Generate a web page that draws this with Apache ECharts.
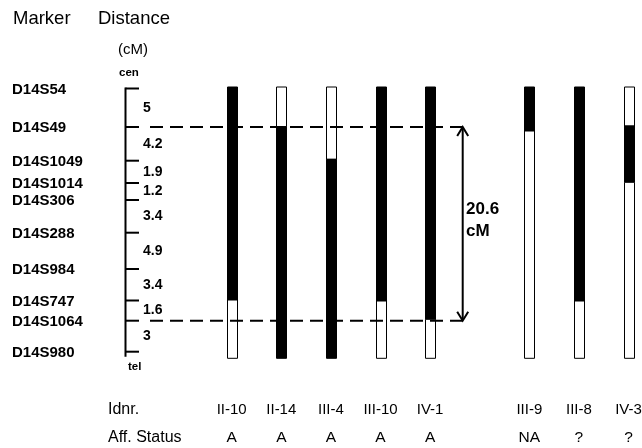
<!DOCTYPE html>
<html><head><meta charset="utf-8">
<script src="https://cdn.jsdelivr.net/npm/echarts@6/dist/echarts.min.js"></script>
<style>html,body{margin:0;padding:0;background:#fff}#c{width:642px;height:448px}</style>
</head><body><div id="c"></div>
<script>
// ---- data ----
const markers = ['D14S54','D14S49','D14S1049','D14S1014','D14S306','D14S288','D14S984','D14S747','D14S1064','D14S980'];
// drawn map position of each marker (arbitrary units, top = 0)
const markerPos = [0, 3.85, 7.22, 9.45, 11.15, 14.42, 18.05, 21.2, 23.22, 26.32];
// genetic distance between consecutive markers (cM)
const distances = [5, 4.2, 1.9, 1.2, 3.4, 4.9, 3.4, 1.6, 3];
const individuals = ['II-10','II-14','III-4','III-10','IV-1','III-9','III-8','IV-3'];
const affStatus = ['A','A','A','A','A','NA','?','?'];
const family = [1,1,1,1,1,2,2,2];
// haplotype segments: [from, to, shared(1=black)]
const hap_II10  = [[-0.15, 21.15, 1], [21.15, 26.98, 0]];
const hap_II14  = [[-0.15, 3.82, 0], [3.82, 26.98, 1]];
const hap_III4  = [[-0.15, 7.08, 0], [7.08, 26.98, 1]];
const hap_III10 = [[-0.15, 21.25, 1], [21.25, 26.98, 0]];
const hap_IV1   = [[-0.15, 23.08, 1], [23.08, 26.98, 0]];
const hap_III9  = [[-0.15, 4.25, 1], [4.25, 26.98, 0]];
const hap_III8  = [[-0.15, 21.25, 1], [21.25, 26.98, 0]];
const hap_IV3   = [[-0.15, 3.75, 0], [3.75, 9.38, 1], [9.38, 26.98, 0]];
const haplotypes = [hap_II10, hap_II14, hap_III4, hap_III10, hap_IV1, hap_III9, hap_III8, hap_IV3];
const criticalFrom = 'D14S49', criticalTo = 'D14S1064';

// ---- build ----
const FONT = 'Arial, "Liberation Sans", sans-serif';
const cats = [], catStatus = [], catIndexOf = [];
individuals.forEach((id, i) => {
  if (i > 0 && family[i] !== family[i-1]) { cats.push(' '); catStatus.push(' '); }
  catIndexOf.push(cats.length); cats.push(id); catStatus.push(affStatus[i]);
});
const segData = [];
haplotypes.forEach((h, i) => h.forEach(s => segData.push([catIndexOf[i], s[0], s[1], s[2]])));
const iFrom = markers.indexOf(criticalFrom), iTo = markers.indexOf(criticalTo);
let critical = 0; for (let k = iFrom; k < iTo; k++) critical += distances[k];
critical = Math.round(critical * 10) / 10;

const AXIS_X = 125.5, TICK_END = 139;
const chart = echarts.init(document.getElementById('c'), null, {renderer: 'canvas'});
const txt = (text, x, y, size, weight, align) => ({
  type: 'text', style: {text, x, y, fill: '#000', font: `${weight} ${size}px ${FONT}`, align: align || 'left', verticalAlign: 'middle'}
});
const option = {
  animation: false,
  backgroundColor: '#fff',
  grid: {left: 206.9, top: 78.5, width: 446.4, height: 290, containLabel: false, outerBoundsMode: 'none'},
  xAxis: {
    type: 'category', data: cats,
    axisLine: {show: false}, axisTick: {show: false}, splitLine: {show: false},
    axisLabel: {
      interval: 0, margin: 27,
      formatter: (v, i) => `{id|${v}}\n{st|${catStatus[i]}}`,
      rich: {
        id: {fontSize: 15, fontFamily: FONT, color: '#000', lineHeight: 28, height: 28},
        st: {fontSize: 15.5, fontFamily: FONT, color: '#000', lineHeight: 28, height: 28}
      }
    }
  },
  yAxis: {type: 'value', inverse: true, min: -1, max: 28, show: false},
  graphic: [
    txt('Marker', 13, 19, 18.5, 'normal'),
    txt('Distance', 98, 19, 18.5, 'normal'),
    txt('(cM)', 118, 50, 15, 'normal'),
    txt('cen', 119, 73, 11.5, 'bold'),
    txt('tel', 128, 367, 11.5, 'bold'),
    txt('Idnr.', 108, 410, 16, 'normal'),
    txt('Aff. Status', 108, 438, 16, 'normal')
  ],
  series: [
    { // haplotype bars
      type: 'custom', clip: false,
      data: segData,
      renderItem: (params, api) => {
        const p1 = api.coord([api.value(0), api.value(1)]);
        const p2 = api.coord([api.value(0), api.value(2)]);
        const x = Math.round(p1[0]) - 5 + 0.5;
        return {type: 'rect', shape: {x, y: p1[1], width: 10, height: p2[1] - p1[1]},
          style: {fill: api.value(3) ? '#000' : '#fff', stroke: '#000', lineWidth: 1}};
      }
    },
    { // map axis line
      type: 'custom', clip: false,
      data: [[0, markerPos[0], markerPos[markerPos.length - 1]]],
      renderItem: (params, api) => {
        const y1 = api.coord([0, api.value(1)])[1];
        const y2 = api.coord([0, api.value(2)])[1];
        return {type: 'line', shape: {x1: AXIS_X, y1: y1 - 1, x2: AXIS_X, y2: y2 + 5}, style: {stroke: '#000', lineWidth: 2}};
      }
    },
    { // markers: ticks, names, distances
      type: 'custom', clip: false,
      data: markers.map((m, i) => [0, markerPos[i], i]),
      renderItem: (params, api) => {
        const i = api.value(2);
        const y = api.coord([0, api.value(1)])[1];
        const children = [
          {type: 'line', shape: {x1: AXIS_X, y1: y, x2: TICK_END, y2: y}, style: {stroke: '#000', lineWidth: 2}},
          txt(markers[i], 12, y + 1, 15, 'bold')
        ];
        if (i < markers.length - 1) {
          const yn = api.coord([0, markerPos[i + 1]])[1];
          children.push(txt(String(distances[i]), 143, (y + yn) / 2, 14, 'bold'));
        }
        return {type: 'group', children};
      }
    },
    { // critical interval
      type: 'custom', clip: false,
      data: [[0, markerPos[iFrom], markerPos[iTo], critical]],
      renderItem: (params, api) => {
        const y1 = api.coord([0, api.value(1)])[1];
        const y2 = api.coord([0, api.value(2)])[1];
        const ax = 462.7, mid = (y1 + y2) / 2;
        const dash = {stroke: '#000', lineWidth: 2, lineDash: [13, 7]};
        const solid = {stroke: '#000', lineWidth: 2, fill: null};
        return {type: 'group', children: [
          {type: 'line', shape: {x1: 150, y1, x2: ax, y2: y1}, style: dash},
          {type: 'line', shape: {x1: 150, y1: y2, x2: ax, y2}, style: dash},
          {type: 'line', shape: {x1: ax, y1: y1 + 1, x2: ax, y2: y2 - 1}, style: solid},
          {type: 'polyline', shape: {points: [[ax - 5.5, y1 + 9], [ax, y1], [ax + 5.5, y1 + 9]]}, style: solid},
          {type: 'polyline', shape: {points: [[ax - 5.5, y2 - 9], [ax, y2], [ax + 5.5, y2 - 9]]}, style: solid},
          txt(String(api.value(3)), 466, mid - 15, 17, 'bold'),
          txt('cM', 466, mid + 7, 17, 'bold')
        ]};
      }
    }
  ]
};
chart.setOption(option);
</script></body></html>
